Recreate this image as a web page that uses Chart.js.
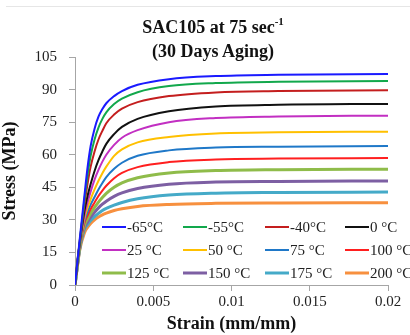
<!DOCTYPE html>
<html>
<head>
<meta charset="utf-8">
<script src="https://cdn.jsdelivr.net/npm/chart.js@4"></script>
<style>
  html, body { margin: 0; padding: 0; background: #fff; }
  #wrap { position: relative; width: 410px; height: 335px; }
  #wrap::before { content: ''; position: absolute; left: 6px; right: 0; top: 6px; border-top: 1px solid #e6e6e6; }
  #titulo { position: absolute; left: 0; width: 426px; top: 10px; text-align: center;
            font: bold 18px "Liberation Serif", serif; line-height: 24px; color: #111; }
  #titulo sup { font-size: 11px; position: relative; top: -1px; }
  canvas { position: absolute; left: 0; top: 0; }
</style>
</head>
<body>
<div id="wrap">
  <canvas id="grafico" width="410" height="335"></canvas>
  <div id="titulo">SAC105 at 75 sec<sup>-1</sup><br>(30 Days Aging)</div>
</div>
<script>
// deformación (mm/mm)
const strain = [0, 0.0003, 0.0006, 0.0008, 0.001, 0.00125, 0.0015, 0.00175, 0.002, 0.0025, 0.003, 0.004, 0.006, 0.009, 0.013, 0.02];

const labels = ['-65°C', '-55°C', '-40°C', '0 °C', '25 °C', '50 °C', '75 °C', '100 °C', '125 °C', '150 °C', '175 °C', '200 °C'];

// esfuerzo (MPa) por temperatura
const sM65 = [0, 21,   41,   54,   64,   72,   77.5, 81,   83.7, 87,   89.3, 92.2, 94.8, 96.2, 96.8, 97.2];
const sM55 = [0, 20,   39,   50.5, 59.5, 67,   72.5, 76.5, 79.5, 83.3, 85.8, 88.8, 91.6, 93,   93.6, 93.9];
const sM40 = [0, 20,   37,   46.5, 54.5, 61.5, 67,   71,   74.5, 78.5, 81.2, 84.2, 87,   88.7, 89.3, 89.7];
const s0   = [0, 19,   34,   41,   46.5, 52.5, 57.5, 61.5, 65,   69.5, 72.8, 76.5, 80,   82.2, 83,   83.4];
const s25  = [0, 19,   32,   38,   43,   48.5, 53,   56.8, 60,   64.5, 67.8, 71.3, 75,   76.9, 77.6, 78];
const s50  = [0, 18.5, 30.5, 35.5, 39.5, 44,   48,   51.5, 54.5, 59.5, 62.5, 65.7, 68.2, 69.8, 70.3, 70.6];
const s75  = [0, 18,   29.5, 33.5, 37,   40.5, 44,   47,   49.7, 53.5, 56.3, 59.5, 62,   63.3, 63.7, 64];
const s100 = [0, 18,   28.5, 32,   35,   38,   41,   43.5, 45.7, 49.2, 51.6, 54.3, 56.6, 57.8, 58.2, 58.5];
const s125 = [0, 17.5, 27.5, 30.5, 33,   35.7, 38.2, 40.3, 42.2, 45,   47,   49.4, 51.6, 52.7, 53.1, 53.3];
const s150 = [0, 17,   26.5, 29,   31.2, 33.5, 35.5, 37.2, 38.6, 40.8, 42.4, 44.4, 46.4, 47.4, 47.7, 47.9];
const s175 = [0, 16.5, 25.5, 27.8, 29.7, 31.5, 33,   34.3, 35.3, 36.8, 38,   39.7, 41.4, 42.3, 42.6, 42.8];
const s200 = [0, 16,   24,   26.5, 28.3, 30,   31.3, 32.3, 33.1, 34.3, 35.1, 36.2, 37.1, 37.6, 37.8, 37.9];

const series  = [sM65, sM55, sM40, s0, s25, s50, s75, s100, s125, s150, s175, s200];
const colores = ['#1a1aff', '#12a84c', '#c41e1e', '#111111', '#c22fc2', '#ffc000',
                 '#1f78c8', '#ff1f1f', '#8fbc4a', '#7d5fa3', '#45aac8', '#f7903f'];
const grosor  = [2, 2, 2, 2, 2, 2, 2, 2, 3, 3, 3, 3];

const xTicks = ['0', '0.005', '0.01', '0.015', '0.02'];
const yTicks = [0, 15, 30, 45, 60, 75, 90, 105];

const serif = '"Liberation Serif", "Times New Roman", serif';

// leyenda dentro del área del gráfico, 4 columnas x 3 filas
const leyenda = {
  id: 'leyenda',
  afterDatasetsDraw(chart) {
    const ctx = chart.ctx;
    const cols = [102, 183, 265, 345];
    const filas = [227, 250, 273];
    ctx.save();
    ctx.font = '15px ' + serif;
    ctx.textBaseline = 'middle';
    chart.data.datasets.forEach((ds, i) => {
      const x = cols[i % 4], y = filas[Math.floor(i / 4)];
      ctx.strokeStyle = ds.borderColor;
      ctx.lineWidth = ds.borderWidth;
      ctx.beginPath(); ctx.moveTo(x, y); ctx.lineTo(x + 24, y); ctx.stroke();
      ctx.fillStyle = '#222';
      ctx.fillText(ds.label, x + 25, y + 1);
    });
    ctx.restore();
  }
};

new Chart(document.getElementById('grafico'), {
  type: 'line',
  data: {
    datasets: series.map((s, i) => ({
      label: labels[i],
      data: strain.map((e, j) => ({ x: e, y: s[j] })),
      borderColor: colores[i],
      borderWidth: grosor[i],
      pointRadius: 0,
      fill: false,
      cubicInterpolationMode: 'monotone'
    }))
  },
  options: {
    responsive: false,
    animation: false,
    layout: { padding: { top: 57, right: 22, left: 0, bottom: 0 } },
    plugins: { legend: { display: false }, title: { display: false }, tooltip: { enabled: false } },
    scales: {
      x: {
        type: 'linear', min: 0, max: 0.02,
        afterBuildTicks: s => { s.ticks = xTicks.map(v => ({ value: parseFloat(v) })); },
        afterFit: s => { s.height = 50; },
        ticks: { callback: (v, i) => xTicks[i], color: '#222', font: { family: serif, size: 15 }, padding: 2, maxRotation: 0 },
        grid: { drawOnChartArea: false, color: '#a6a6a6', tickLength: 6 },
        border: { color: '#a6a6a6' },
        title: { display: true, text: 'Strain (mm/mm)', color: '#111', font: { family: serif, size: 18, weight: 'bold' }, padding: { top: 0, bottom: 0 } }
      },
      y: {
        min: 0, max: 105,
        afterBuildTicks: s => { s.ticks = yTicks.map(v => ({ value: v })); },
        afterFit: s => { s.width = 75; },
        ticks: { color: '#222', font: { family: serif, size: 15 }, padding: 12 },
        grid: { drawOnChartArea: false, color: '#a6a6a6', tickLength: 6 },
        border: { color: '#a6a6a6' },
        title: { display: true, text: 'Stress (MPa)', color: '#111', font: { family: serif, size: 18, weight: 'bold' }, padding: { top: 0, bottom: 0 } }
      }
    }
  },
  plugins: [leyenda]
});
</script>
</body>
</html>
